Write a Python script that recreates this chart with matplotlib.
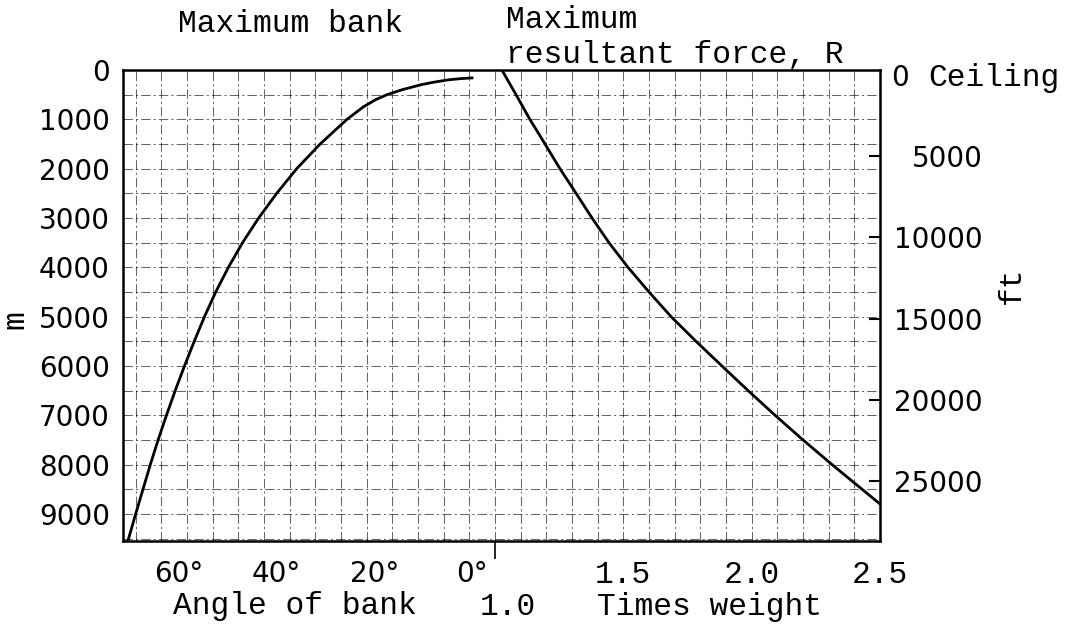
import matplotlib.pyplot as plt
from matplotlib.ticker import MultipleLocator

# altitude is counted downwards from the ceiling (0 at the top)
bank_alt_m = [160, 175, 200, 250, 300, 400, 500, 600, 750, 1000, 1500, 2000, 2500,
              3000, 3500, 4000, 4500, 5000, 5500, 6000, 6500, 7000, 7500, 8000, 8500,
              9000, 9550]
bank_deg = [0.0, 2.3, 4.9, 8.0, 10.5, 14.3, 17.4, 19.7, 22.3, 25.6, 31.1, 35.9, 40.0,
            43.7, 47.0, 49.9, 52.5, 54.8, 56.9, 58.9, 60.8, 62.6, 64.3, 65.9, 67.4,
            68.9, 70.5]

force_alt_m = [0, 500, 1000, 1500, 2000, 2500, 3000, 3500, 4000, 4500, 5000, 5500,
               6000, 6500, 7000, 7500, 8000, 8800]
force_times_weight = [1.027, 1.082, 1.136, 1.195, 1.253, 1.316, 1.378, 1.444, 1.518,
                      1.600, 1.686, 1.783, 1.884, 1.986, 2.091, 2.200, 2.313, 2.500]

alt_ticks_m = [0, 1000, 2000, 3000, 4000, 5000, 6000, 7000, 8000, 9000]
ft_ticks = [5000, 10000, 15000, 20000, 25000]
angle_ticks = [60, 40, 20, 0]
angle_labels = ["60°", "40°", "20°", "0°"]
weight_ticks = [1.5, 2.0, 2.5]
weight_labels = ["1.5", "2.0", "2.5"]

MONO = "Liberation Mono"
SANS = "DejaVu Sans"
MONO_SIZE = 22.5
SANS_SIZE = 20

W, H = 1066, 630


def fx(px):
    return px / W


def fy(py):
    return 1 - py / H


fig = plt.figure(figsize=(W / 100, H / 100), dpi=100)
ax = fig.add_axes([fx(123), fy(541), fx(880 - 123), (541 - 70) / H])

# times-weight axis (right half) + grid
ax.set_xlim(-0.449, 2.5)
ax.set_ylim(9550, 0)
ax.plot(force_times_weight, force_alt_m, color="black", linewidth=2.0, zorder=3)

ax.set_yticks(alt_ticks_m)
ax.set_yticklabels([str(v) for v in alt_ticks_m], fontfamily=SANS, fontsize=SANS_SIZE)
ax.yaxis.set_minor_locator(MultipleLocator(500))
ax.set_xticks(weight_ticks)
ax.set_xticklabels(weight_labels, fontfamily=MONO, fontsize=MONO_SIZE)
ax.xaxis.set_minor_locator(MultipleLocator(0.1))
ax.tick_params(axis="y", which="both", length=0, pad=9.4)
ax.tick_params(axis="x", which="both", length=0, pad=14)
ax.grid(which="both", color="black", linewidth=0.75, alpha=0.6,
        linestyle=(0, (9, 3, 2, 3)))
for s in ax.spines.values():
    s.set_linewidth(1.8)

# long tick at 0° / 1.0
sec = ax.secondary_xaxis("bottom")
sec.set_xticks([1.0])
sec.set_xticklabels([""])
sec.tick_params(length=13, width=1.2)
sec.spines["bottom"].set_visible(False)

# angle-of-bank axis (left half)
axb = ax.twiny()
axb.set_xlim(71.5, -83.6)
axb.plot(bank_deg, bank_alt_m, color="black", linewidth=2.0, zorder=3)
axb.xaxis.set_ticks_position("bottom")
axb.set_xticks(angle_ticks)
axb.set_xticklabels(angle_labels, fontfamily=SANS, fontsize=SANS_SIZE)
axb.tick_params(axis="x", length=0, pad=14)
for s in axb.spines.values():
    s.set_visible(False)

# feet scale on the right
ax2 = ax.twinx()
ax2.set_ylim(28695, -308)
ax2.set_yticks(ft_ticks)
ax2.set_yticklabels([str(v) for v in ft_ticks], fontfamily=SANS, fontsize=SANS_SIZE)
for lab in ax2.get_yticklabels():
    lab.set_horizontalalignment("right")
ax2.tick_params(axis="y", direction="in", length=8, width=1.5, pad=74)
for s in ax2.spines.values():
    s.set_visible(False)

# texts
fig.text(fx(291), fy(24), "Maximum bank", family=MONO, fontsize=MONO_SIZE,
         ha="center", va="center")
fig.text(fx(506), fy(20), "Maximum", family=MONO, fontsize=MONO_SIZE,
         ha="left", va="center")
fig.text(fx(506), fy(55), "resultant force, R", family=MONO, fontsize=MONO_SIZE,
         ha="left", va="center")
fig.text(fx(891), fy(78), "0", family=SANS, fontsize=SANS_SIZE, ha="left", va="center")
fig.text(fx(928), fy(78), "Ceiling", family=MONO, fontsize=MONO_SIZE,
         ha="left", va="center")
fig.text(fx(295), fy(606), "Angle of bank", family=MONO, fontsize=MONO_SIZE,
         ha="center", va="center")
fig.text(fx(508), fy(607), "1.0", family=MONO, fontsize=MONO_SIZE,
         ha="center", va="center")
fig.text(fx(597), fy(607), "Times weight", family=MONO, fontsize=MONO_SIZE,
         ha="left", va="center")
fig.text(fx(15), fy(320), "m", family=MONO, fontsize=MONO_SIZE, rotation=90,
         ha="center", va="center")
fig.text(fx(1012), fy(285), "ft", family=MONO, fontsize=MONO_SIZE, rotation=90,
         ha="center", va="center")

fig.savefig("out.png", dpi=100)
